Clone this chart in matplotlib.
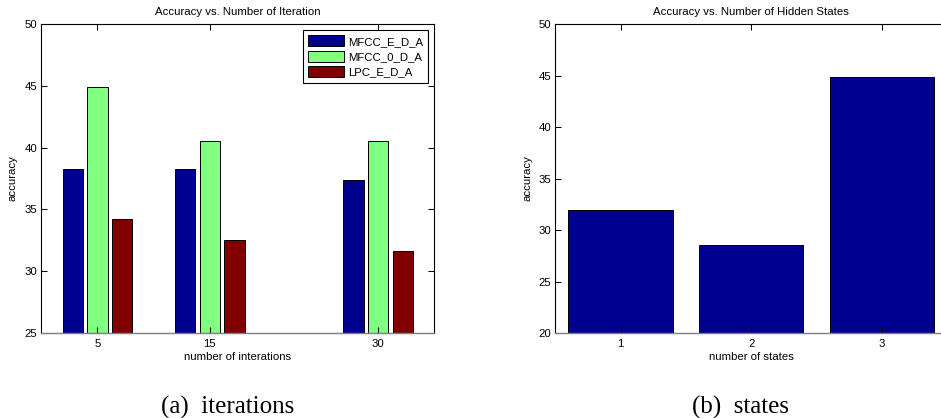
import matplotlib
matplotlib.use('Agg')
import matplotlib.pyplot as plt
import numpy as np

plt.rcParams['font.family'] = ['Liberation Sans', 'DejaVu Sans']

# data
iterations = [5, 15, 30]
series_names = ['MFCC_E_D_A', 'MFCC_0_D_A', 'LPC_E_D_A']
mfcc_e_d_a = [38.3, 38.3, 37.4]
mfcc_0_d_a = [44.9, 40.5, 40.5]
lpc_e_d_a = [34.2, 32.5, 31.6]

states = [1, 2, 3]
state_acc = [31.9, 28.5, 44.9]

colors = ['#00008F', '#80FF80', '#800000']
fs = 8.2

fig = plt.figure(figsize=(9.41, 4.18), dpi=100)
ax1 = fig.add_axes([0.0439, 0.2033, 0.4176, 0.7392])
ax2 = fig.add_axes([0.5901, 0.2033, 0.4163, 0.7392])


def matlab_style(ax):
    ax.tick_params(direction='in', length=4, width=0.75, top=True, right=True,
                   labelsize=fs, colors='black')
    ax.tick_params(axis='y', pad=3)
    ax.tick_params(axis='x', pad=4)
    for side in ['left', 'top', 'right']:
        ax.spines[side].set_linewidth(0.8)
        ax.spines[side].set_color('black')
    ax.spines['bottom'].set_linewidth(1.0)
    ax.spines['bottom'].set_color('#7f7f7f')


# left: grouped bars
offsets = [-2.2, 0.0, 2.2]
x = np.array(iterations, dtype=float)
for vals, off, c, name in zip([mfcc_e_d_a, mfcc_0_d_a, lpc_e_d_a], offsets, colors, series_names):
    ax1.bar(x + off, vals, width=1.8, color=c, edgecolor='black', linewidth=0.7, label=name)
ax1.set_xlim(0, 35)
ax1.set_ylim(25, 50)
ax1.set_xticks(iterations)
ax1.set_yticks(np.arange(25, 51, 5))
matlab_style(ax1)
ax1.text(0.5, 1.039, 'Accuracy vs. Number of Iteration', transform=ax1.transAxes,
         ha='center', va='center', fontsize=fs)
ax1.set_xlabel('number of interations', fontsize=fs)
ax1.xaxis.set_label_coords(0.5, -0.078)
ax1.xaxis.label.set_va('center')
ax1.set_ylabel('accuracy', fontsize=fs)
ax1.yaxis.set_label_coords(-0.073, 0.5)
ax1.yaxis.label.set_va('center')
leg = ax1.legend(loc='upper right', fontsize=fs, fancybox=False, framealpha=1,
                 edgecolor='black', handlelength=3.15, handleheight=1.1,
                 handletextpad=0.3, labelspacing=0.35, borderpad=0.45,
                 borderaxespad=0.55)
leg.get_frame().set_linewidth(0.8)

# right: single bars
ax2.bar(states, state_acc, width=0.8, color=colors[0], edgecolor='black', linewidth=0.7)
ax2.set_xlim(0.5, 3.5)
ax2.set_ylim(20, 50)
ax2.set_xticks(states)
ax2.set_yticks(np.arange(20, 51, 5))
matlab_style(ax2)
ax2.text(0.5, 1.039, 'Accuracy vs. Number of Hidden States', transform=ax2.transAxes,
         ha='center', va='center', fontsize=fs)
ax2.set_xlabel('number of states', fontsize=fs)
ax2.xaxis.set_label_coords(0.5, -0.078)
ax2.xaxis.label.set_va('center')
ax2.set_ylabel('accuracy', fontsize=fs)
ax2.yaxis.set_label_coords(-0.072, 0.5)
ax2.yaxis.label.set_va('center')

# sub-captions
fig.text(228 / 941, 1 - 414 / 418, '(a)  iterations', ha='center', va='baseline',
         fontsize=18, family=['Liberation Serif', 'DejaVu Serif'])
fig.text(741 / 941, 1 - 414 / 418, '(b)  states', ha='center', va='baseline',
         fontsize=18, family=['Liberation Serif', 'DejaVu Serif'])

fig.savefig('out.png', dpi=100)
